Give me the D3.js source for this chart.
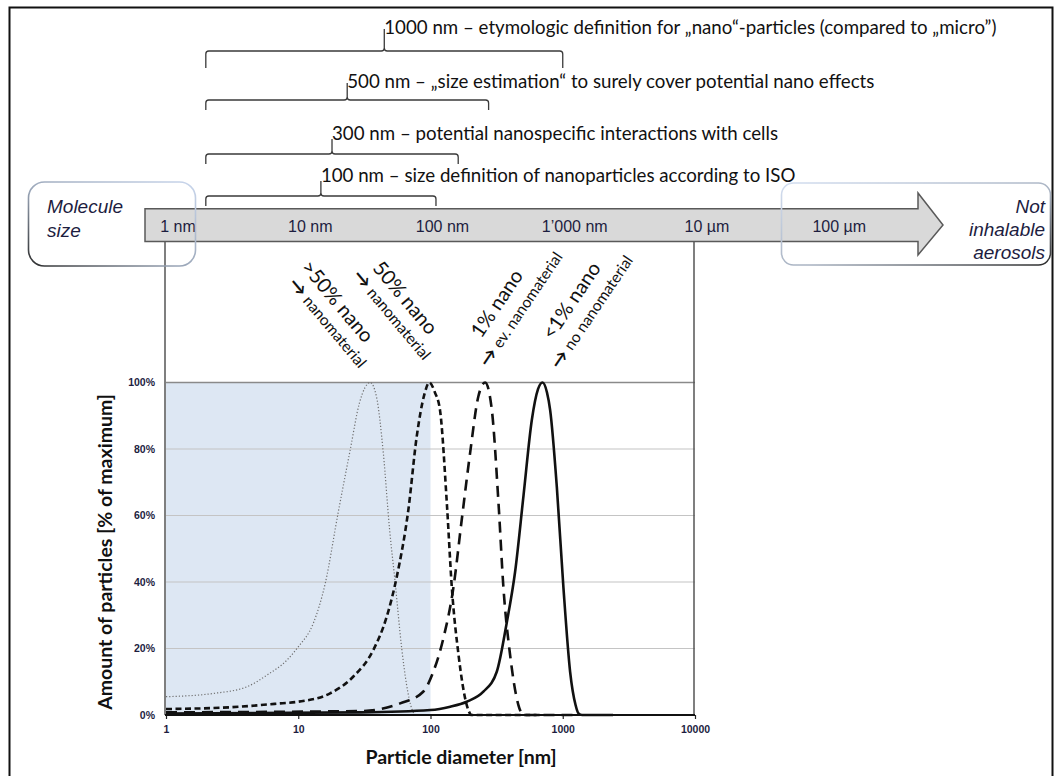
<!DOCTYPE html>
<html>
<head>
<meta charset="utf-8">
<script src="https://cdn.jsdelivr.net/npm/d3@7/dist/d3.min.js"></script>
<style>
body { margin: 0; background: #fff; }
svg { display: block; }
</style>
</head>
<body>
<div class="chart"></div>
<script>
// ---- values ----
var xTicks = [1, 10, 100, 1000, 10000];
var yTicks = [0, 20, 40, 60, 80, 100];

var arrowValues = [1, 10, 100, 1000, 10000, 100000];
var arrowLabels = ["1 nm", "10 nm", "100 nm", "1\u2019000 nm", "10 \u00b5m", "100 \u00b5m"];

var braceLabels = [
    "1000 nm \u2013 etymologic definition for \u201enano\u201c-particles (compared to \u201emicro\u201d)",
    "500 nm \u2013 \u201esize estimation\u201c to surely cover potential nano effects",
    "300 nm \u2013 potential nanospecific interactions with cells",
    "100 nm \u2013 size definition of nanoparticles according to ISO"
];
var braceStart = 2;                      // nm, left end of every brace
var braceEnd = [1000, 275, 162, 110];    // nm, right end as drawn in the schematic

var nanoLimit = 100;                     // shaded nano range, 1..100 nm

// [diameter nm, % of maximum]
var curveMoreThan50 = [[1, 5.5], [2.3, 6.5], [4.1, 8.5], [5.8, 12], [8.2, 16.5], [10, 20.5], [13, 27.6],
    [16, 39.6], [20, 60.7], [24.7, 79.7], [29, 93.8], [35, 100], [39, 95.8], [44, 78.7], [49, 56],
    [54, 40], [60.6, 20], [66, 9], [72, 2], [76, 0]];
var curve50 = [[1, 1.8], [3, 2.3], [7.3, 3.5], [10, 4], [17.4, 6.5], [26, 11.5], [37, 19.6], [46.7, 29.6],
    [55.6, 41.6], [68, 61.7], [78.7, 83.8], [90, 96.5], [98, 100], [108, 97], [118, 91.7], [133, 63.5],
    [145, 38.3], [163, 18], [188, 3], [205, 0], [700, 0]];
var curve1 = [[1, 0.8], [30, 1.2], [59, 3.5], [88, 7], [105, 13], [125, 23], [149, 38.3], [172, 58.5],
    [199, 78.6], [230, 95.8], [259, 100], [291, 91.7], [327, 63.5], [356, 38.3], [400, 18], [462, 3],
    [505, 0], [1200, 0]];
var curveLessThan1 = [[1, 0.4], [30, 0.8], [100, 1.5], [141, 2.5], [188, 4], [251, 7], [317, 13], [378, 28],
    [436, 43], [505, 66], [584, 88.8], [650, 98], [703, 100], [760, 97], [803, 91.7], [902, 68.6],
    [1012, 38.3], [1137, 13], [1250, 3], [1315, 0.5], [1400, 0], [2400, 0]];

var sizeLabels = [">50% nano", "50% nano", "1% nano", "<1% nano"];
var sizeNotes = ["nanomaterial", "nanomaterial", "ev. nanomaterial", "no nanomaterial"];
var sizePeaks = [35, 98, 259, 703];

// ---- layout ----
var svgWidth = 1056;
var svgHeight = 776;
var plot = { left: 166, right: 695, top: 382.5, bottom: 715 };
var braceRowY = [51, 100, 154, 196];
var braceHook = [17, 10, 10, 10];
var braceTip = [22, 17, 15, 15];
var braceText = [17, 12, 14, 14];
var arrowBar = { left: 145, neck: 918, tip: 943, top: 208.7, bottom: 241.5, headTop: 193, headBottom: 255 };
var labelAngle = [50, 50, -56, -56];
var labelDx = [-6, -1, -4, 10];
var labelY = [344, 336, 339, 341];

var calibri = "Lato, 'Open Sans', sans-serif";
var arial = "'Liberation Sans', Arial, sans-serif";

var svg = d3
    .select(".chart")
    .append("svg")
    .attr("width", svgWidth)
    .attr("height", svgHeight);

var defs = svg.append("defs");
var gradLeft = defs.append("linearGradient").attr("id", "boxLeft")
    .attr("x1", "0").attr("y1", "1").attr("x2", "1").attr("y2", "0");
gradLeft.append("stop").attr("offset", "0").attr("stop-color", "#2b2b2b");
gradLeft.append("stop").attr("offset", "0.45").attr("stop-color", "#9aa6b8");
gradLeft.append("stop").attr("offset", "1").attr("stop-color", "#c9d6ec");
var gradRight = defs.append("linearGradient").attr("id", "boxRight")
    .attr("x1", "0").attr("y1", "0").attr("x2", "1").attr("y2", "1");
gradRight.append("stop").attr("offset", "0").attr("stop-color", "#d3def0");
gradRight.append("stop").attr("offset", "0.55").attr("stop-color", "#a9b3c2");
gradRight.append("stop").attr("offset", "1").attr("stop-color", "#2b2b2b");

// outer frame
svg.append("rect")
    .attr("x", 9.5).attr("y", 7.5)
    .attr("width", 1043).attr("height", 800)
    .attr("fill", "none")
    .attr("stroke", "#111")
    .attr("stroke-width", 2);

// scales
var xLogScale = d3.scaleLog().domain([1, 10000]).range([plot.left, plot.right]);
var yLinearScale = d3.scaleLinear().domain([0, 100]).range([plot.bottom, plot.top]);

// shaded nano range
svg.append("rect")
    .attr("x", xLogScale(1))
    .attr("y", yLinearScale(100))
    .attr("width", xLogScale(nanoLimit) - xLogScale(1))
    .attr("height", yLinearScale(0) - yLinearScale(100))
    .attr("fill", "#dde7f3");

// grid lines
svg.append("g")
    .selectAll("line")
    .data(yTicks.filter(function (d) { return d > 0 && d < 100; }))
    .enter()
    .append("line")
    .attr("x1", plot.left).attr("x2", plot.right)
    .attr("y1", function (d) { return yLinearScale(d); })
    .attr("y2", function (d) { return yLinearScale(d); })
    .attr("stroke", "#c4c4c4")
    .attr("stroke-width", 1.2);

// frame around the plot, reaching up to the arrow (1 nm .. 10 um)
svg.append("line")
    .attr("x1", plot.left).attr("x2", plot.right)
    .attr("y1", yLinearScale(100)).attr("y2", yLinearScale(100))
    .attr("stroke", "#8a8a8a").attr("stroke-width", 1.5);
svg.append("line")
    .attr("x1", xLogScale(1) - 1).attr("x2", xLogScale(1) - 1)
    .attr("y1", arrowBar.bottom).attr("y2", plot.bottom)
    .attr("stroke", "#555").attr("stroke-width", 1.5);
svg.append("line")
    .attr("x1", xLogScale(10000) - 1).attr("x2", xLogScale(10000) - 1)
    .attr("y1", arrowBar.bottom).attr("y2", plot.bottom)
    .attr("stroke", "#555").attr("stroke-width", 1.5);

// curves
var line = d3.line()
    .x(function (d) { return xLogScale(d[0]); })
    .y(function (d) { return yLinearScale(d[1]); })
    .curve(d3.curveMonotoneX);

var curves = [
    { data: curveMoreThan50, color: "#6f6f6f", width: 1.2, dash: "1.2,2" },
    { data: curve50, color: "#111", width: 2.6, dash: "6,3.5" },
    { data: curve1, color: "#111", width: 2.6, dash: "11,7" },
    { data: curveLessThan1, color: "#111", width: 2.6, dash: null }
];
svg.append("g")
    .selectAll("path")
    .data(curves)
    .enter()
    .append("path")
    .attr("d", function (c) { return line(c.data); })
    .attr("fill", "none")
    .attr("stroke", function (c) { return c.color; })
    .attr("stroke-width", function (c) { return c.width; })
    .attr("stroke-dasharray", function (c) { return c.dash; });

// axes
var leftAxis = d3.axisLeft(yLinearScale)
    .tickValues(yTicks)
    .tickFormat(function (d) { return d + "%"; })
    .tickSize(0)
    .tickPadding(11);
var bottomAxis = d3.axisBottom(xLogScale)
    .tickValues(xTicks)
    .tickFormat(d3.format("d"))
    .tickSize(4)
    .tickPadding(6.5);

var yAxisG = svg.append("g")
    .attr("transform", "translate(" + plot.left + ",0)")
    .call(leftAxis);
var xAxisG = svg.append("g")
    .attr("transform", "translate(0," + plot.bottom + ")")
    .call(bottomAxis);
yAxisG.select(".domain").remove();
xAxisG.select(".domain").remove();
xAxisG.selectAll(".tick line").attr("stroke", "#222").attr("stroke-width", 1.2);
svg.selectAll(".tick text")
    .attr("fill", "#1d1d3f")
    .style("font", "bold 10.5px " + arial);

svg.append("line")
    .attr("x1", plot.left - 1).attr("x2", plot.right)
    .attr("y1", plot.bottom).attr("y2", plot.bottom)
    .attr("stroke", "#111").attr("stroke-width", 2);

// axis titles
svg.append("text")
    .attr("transform", "translate(112," + 552 + ") rotate(-90)")
    .attr("text-anchor", "middle")
    .style("font", "bold 19.5px " + calibri)
    .attr("fill", "#111")
    .text("Amount of particles [% of maximum]");
svg.append("text")
    .attr("x", 461)
    .attr("y", 764)
    .attr("text-anchor", "middle")
    .style("font", "bold 19.5px " + calibri)
    .attr("fill", "#111")
    .text("Particle diameter [nm]");

// size arrow
svg.append("path")
    .attr("d", "M" + arrowBar.left + "," + arrowBar.top +
        "L" + arrowBar.neck + "," + arrowBar.top +
        "L" + arrowBar.neck + "," + arrowBar.headTop +
        "L" + arrowBar.tip + "," + (arrowBar.top + arrowBar.bottom) / 2 +
        "L" + arrowBar.neck + "," + arrowBar.headBottom +
        "L" + arrowBar.neck + "," + arrowBar.bottom +
        "L" + arrowBar.left + "," + arrowBar.bottom + "Z")
    .attr("fill", "#d9d9d9")
    .attr("stroke", "#595959")
    .attr("stroke-width", 1.5);

svg.append("g")
    .selectAll("text")
    .data(arrowValues)
    .enter()
    .append("text")
    .attr("x", function (d) { return xLogScale(d) + 12; })
    .attr("y", 232)
    .attr("text-anchor", "middle")
    .style("font", "16px " + arial)
    .attr("fill", "#1d1d3f")
    .text(function (d, i) { return arrowLabels[i]; });

// rounded side boxes
svg.append("rect")
    .attr("x", 28.5).attr("y", 182)
    .attr("width", 167).attr("height", 84)
    .attr("rx", 16)
    .attr("fill", "none")
    .attr("stroke", "url(#boxLeft)")
    .attr("stroke-width", 1.6);
svg.append("rect")
    .attr("x", 781.5).attr("y", 183)
    .attr("width", 269).attr("height", 82)
    .attr("rx", 12)
    .attr("fill", "none")
    .attr("stroke", "url(#boxRight)")
    .attr("stroke-width", 1.6);

var leftBoxText = ["Molecule", "size"];
svg.append("g")
    .selectAll("text")
    .data(leftBoxText)
    .enter()
    .append("text")
    .attr("x", 47)
    .attr("y", function (d, i) { return 213 + i * 24; })
    .style("font", "italic 19px " + arial)
    .attr("fill", "#1d1d3f")
    .text(function (d) { return d; });

var rightBoxText = ["Not", "inhalable", "aerosols"];
svg.append("g")
    .selectAll("text")
    .data(rightBoxText)
    .enter()
    .append("text")
    .attr("x", 1045)
    .attr("y", function (d, i) { return 213 + i * 23; })
    .attr("text-anchor", "end")
    .style("font", "italic 19px " + arial)
    .attr("fill", "#1d1d3f")
    .text(function (d) { return d; });

// braces with their definitions
function bracePath(L, R, y0, hook, tipTop) {
    var M = (L + R) / 2, r = 3;
    return "M" + L + "," + (y0 + hook) + "L" + L + "," + (y0 + r) +
        "Q" + L + "," + y0 + " " + (L + r) + "," + y0 +
        "L" + (M - r) + "," + y0 + "Q" + M + "," + y0 + " " + M + "," + (y0 - r) +
        "L" + M + "," + tipTop +
        "M" + M + "," + (y0 - r) + "Q" + M + "," + y0 + " " + (M + r) + "," + y0 +
        "L" + (R - r) + "," + y0 + "Q" + R + "," + y0 + " " + R + "," + (y0 + r) +
        "L" + R + "," + (y0 + hook);
}

var braces = svg.append("g")
    .selectAll("g")
    .data(braceLabels)
    .enter()
    .append("g");

braces.append("path")
    .attr("d", function (d, i) {
        return bracePath(xLogScale(braceStart), xLogScale(braceEnd[i]), braceRowY[i],
            braceHook[i], braceRowY[i] - braceTip[i]);
    })
    .attr("fill", "none")
    .attr("stroke", "#3a3a3a")
    .attr("stroke-width", 1.3);

braces.append("text")
    .attr("x", function (d, i) { return (xLogScale(braceStart) + xLogScale(braceEnd[i])) / 2; })
    .attr("y", function (d, i) { return braceRowY[i] - braceText[i]; })
    .style("font", "18.7px " + calibri)
    .attr("fill", "#111")
    .text(function (d) { return d; });

// rotated notes above the peaks
var notes = svg.append("g")
    .selectAll("text")
    .data(sizeLabels)
    .enter()
    .append("text")
    .attr("transform", function (d, i) {
        return "translate(" + (xLogScale(sizePeaks[i]) + labelDx[i]) + "," + labelY[i] + ") rotate(" + labelAngle[i] + ")";
    })
    .attr("text-anchor", function (d, i) { return labelAngle[i] > 0 ? "end" : "start"; })
    .attr("fill", "#111")
    .style("font-family", calibri);

notes.append("tspan")
    .attr("x", 0)
    .attr("y", 0)
    .style("font-size", "20px")
    .text(function (d) { return d; });

// second line: bold arrow, then the note
notes.append("tspan")
    .attr("x", function (d, i) { return labelAngle[i] > 0 ? 16 : -20; })
    .attr("y", function (d, i) { return labelAngle[i] > 0 ? 20 : 22; })
    .style("font-size", "18px")
    .style("font-weight", "bold")
    .text("\u2192 ");

notes.append("tspan")
    .style("font-size", "15.5px")
    .text(function (d, i) { return sizeNotes[i]; });
</script>
</body>
</html>
